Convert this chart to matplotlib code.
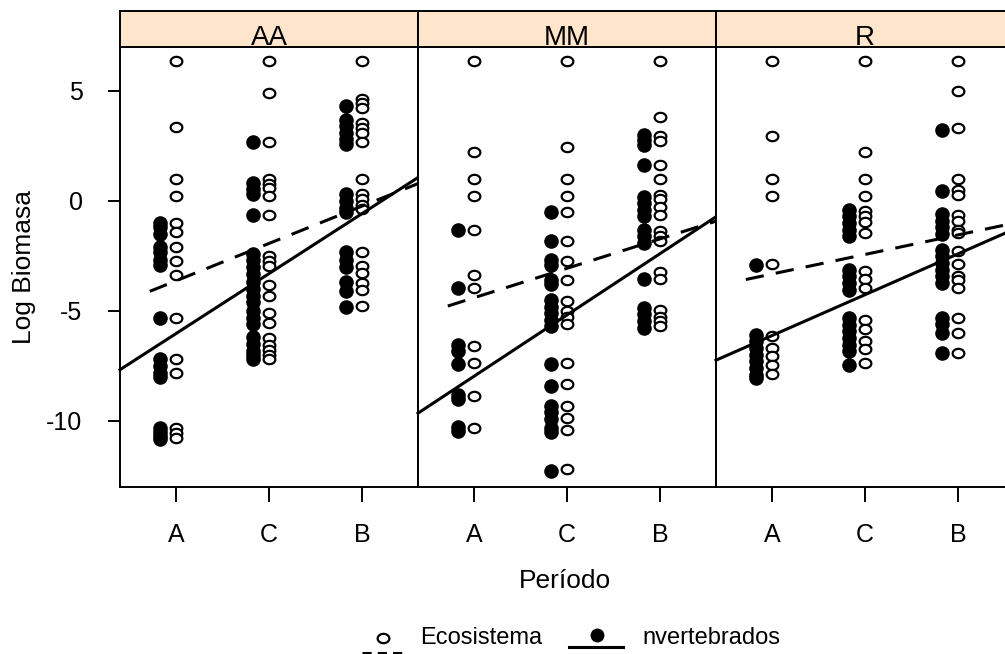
import numpy as np
import matplotlib.pyplot as plt
from matplotlib.lines import Line2D
from matplotlib.path import Path

plt.rcParams['font.family'] = ['Liberation Sans', 'DejaVu Sans']

panels = ['AA', 'MM', 'R']
periods = ['A', 'C', 'B']

# Ecosistema (open circles), one list per period A, C, B
eco_AA = [[6.35, 3.36, 1.0, 0.24, -1.0, -1.43, -2.11, -2.74, -3.36, -5.32, -7.18, -7.82, -10.32, -10.55, -10.77],
          [6.35, 4.9, 2.68, 1.0, 0.79, 0.59, 0.24, -0.65, -2.52, -2.74, -2.97, -3.8, -4.34, -5.1, -5.55,
           -6.23, -6.53, -6.76, -6.99, -7.18],
          [6.35, 4.64, 4.45, 4.25, 3.55, 3.32, 3.09, 2.66, 1.0, 0.33, 0.09, -0.17, -0.36, -2.34, -2.94,
           -3.27, -3.73, -4.06, -4.79]]
eco_MM = [[6.35, 2.25, 1.0, 0.24, -1.34, -3.35, -3.96, -6.61, -7.37, -8.85, -10.32],
          [6.35, 2.44, 1.0, 0.24, -0.5, -1.83, -2.74, -3.6, -4.56, -5.0, -5.25, -5.6, -7.37, -8.32, -9.33,
           -9.86, -10.4, -12.17],
          [6.35, 3.8, 2.94, 2.71, 1.65, 1.0, 0.29, 0.09, -0.25, -0.65, -1.38, -1.6, -1.83, -3.23, -3.53,
           -4.94, -5.25, -5.47, -5.7]]
eco_R = [[6.35, 2.97, 1.0, 0.24, -2.86, -6.15, -6.68, -7.06, -7.47, -7.86],
         [6.35, 2.25, 1.0, 0.24, -0.47, -0.7, -0.97, -1.45, -3.17, -3.55, -3.95, -5.4, -5.82, -6.38, -6.73, -7.36],
         [6.35, 5.01, 3.32, 1.0, 0.51, 0.29, -0.62, -0.93, -1.3, -1.45, -2.25, -2.85, -3.43, -3.58, -3.96,
          -5.32, -6.0, -6.91]]

# Invertebrados (filled circles)
inv_AA = [[-1.0, -1.2, -1.5, -2.1, -2.3, -2.7, -2.9, -5.3, -7.2, -7.5, -7.8, -8.0, -10.3, -10.5, -10.7, -10.8],
          [2.68, 0.82, 0.55, 0.3, -0.65, -2.4, -2.7, -3.0, -3.3, -3.7, -4.0, -4.3, -4.6, -5.0, -5.3, -5.6,
           -6.2, -6.5, -6.8, -7.0, -7.2],
          [4.3, 3.7, 3.4, 3.1, 2.8, 2.6, 0.3, 0.0, -0.3, -0.5, -2.3, -2.7, -3.0, -3.7, -4.1, -4.8]]
inv_MM = [[-1.34, -3.96, -6.55, -6.8, -7.4, -8.8, -9.0, -10.25, -10.45],
          [-0.5, -1.83, -2.7, -2.9, -3.6, -3.75, -4.5, -4.8, -5.1, -5.4, -5.7, -7.4, -8.4, -9.3, -9.6, -9.9,
           -10.3, -10.5, -12.25],
          [3.01, 2.79, 2.56, 1.65, 0.2, -0.1, -0.4, -0.7, -1.3, -1.6, -1.9, -3.55, -4.85, -5.15, -5.45, -5.75]]
inv_R = [[-2.9, -6.08, -6.38, -6.68, -6.99, -7.29, -7.59, -7.9, -8.05],
         [-0.4, -0.7, -1.0, -1.3, -1.6, -3.12, -3.43, -3.73, -4.03, -5.32, -5.62, -5.93, -6.23, -6.53, -6.84, -7.44],
         [3.24, 0.44, -0.6, -0.9, -1.2, -1.5, -2.21, -2.52, -2.82, -3.12, -3.43, -3.73, -5.3, -5.6, -6.0, -6.91]]

eco_data = [eco_AA, eco_MM, eco_R]
inv_data = [inv_AA, inv_MM, inv_R]

# fitted lines per panel (slope, intercept on period index 1..3)
inv_slope = [2.73, 2.79, 1.86]
inv_icpt = [-8.76, -10.76, -7.98]
eco_slope = [1.70, 1.34, 0.89]
eco_icpt = [-5.33, -5.74, -4.21]

W, H = 1005, 654
def fx(px):
    return px / W
def fy(py):
    return 1 - py / H

fig = plt.figure(figsize=(W / 100, H / 100), dpi=100)

# slightly flattened open circle, like the reference
th = np.linspace(0, 2 * np.pi, 60)
oval = Path(np.column_stack([np.cos(th), 0.8 * np.sin(th)]), closed=True)

pw = 298
for i, name in enumerate(panels):
    left = 120 + pw * i
    ax = fig.add_axes([fx(left), fy(487), pw / W, 440 / H])
    ax.set_xlim(0.4, 3.6)
    ax.set_ylim(-13, 7)
    for k in range(3):
        yv = inv_data[i][k]
        ax.plot(np.full(len(yv), k + 1 - 0.172), yv, 'o', color='k', ms=10.5, mew=0, zorder=3)
        yv = eco_data[i][k]
        ax.plot(np.full(len(yv), k + 1.0), yv, ls='none', marker=oval, mfc='white', mec='k',
                ms=8.4, mew=1.6, zorder=3)
    xs = np.array([0.4, 3.64])
    ax.plot(xs, inv_icpt[i] + inv_slope[i] * xs, color='k', lw=2.2, clip_on=False, zorder=4)
    xd = np.array([0.72, 3.6])
    ax.plot(xd, eco_icpt[i] + eco_slope[i] * xd, color='k', lw=2.2, ls=(0, (6, 4)), zorder=4)

    ax.set_xticks([1, 2, 3])
    ax.set_xticklabels(periods)
    ax.tick_params(axis='x', direction='out', length=11, width=1.4, pad=15, labelsize=18)
    if i == 0:
        ax.set_yticks([-10, -5, 0, 5])
        ax.set_yticklabels(['-10', '-5', '0', '5'])
        ax.tick_params(axis='y', direction='out', length=9, width=1.4, pad=18, labelsize=18)
    else:
        ax.set_yticks([])
    for s in ax.spines.values():
        s.set_linewidth(1.4)

    strip = fig.add_axes([fx(left), fy(47), pw / W, 36 / H])
    strip.set_facecolor('#FFE5CC')
    strip.set_xticks([])
    strip.set_yticks([])
    for s in strip.spines.values():
        s.set_linewidth(1.4)
    strip.text(0.5, 0.06, name, ha='center', va='baseline', fontsize=20, transform=strip.transAxes)

fig.text(fx(24), fy(267), 'Log Biomasa', rotation=90, ha='center', va='center', fontsize=19)
fig.text(fx(565), fy(581), 'Período', ha='center', va='center', fontsize=19)

# legend
fig.add_artist(Line2D([fx(383)], [fy(638)], ls='none', marker=oval, mfc='white', mec='k', ms=8.4, mew=1.6))
fig.add_artist(Line2D([fx(362), fx(404)], [fy(653), fy(653)], color='k', lw=2.2, ls=(0, (3, 2))))
fig.text(fx(420), fy(638), 'Ecosistema', ha='left', va='center', fontsize=17)
fig.add_artist(Line2D([fx(597)], [fy(635)], ls='none', marker='o', color='k', ms=10, mew=0))
fig.add_artist(Line2D([fx(569), fx(623)], [fy(647), fy(647)], color='k', lw=2.2))
fig.text(fx(642), fy(638), 'nvertebrados', ha='left', va='center', fontsize=17)

fig.savefig('out.png', dpi=100)
